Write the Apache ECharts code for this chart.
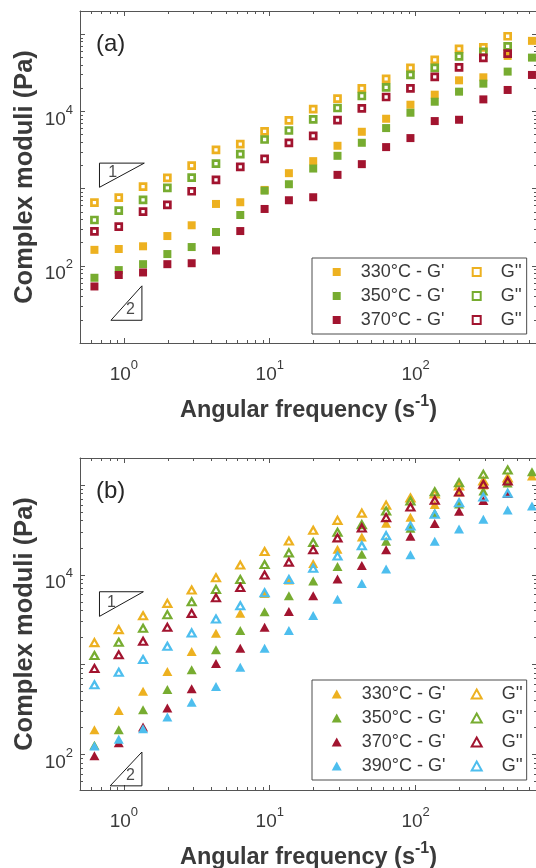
<!DOCTYPE html>
<html><head><meta charset="utf-8">
<script src="https://cdn.jsdelivr.net/npm/echarts@6/dist/echarts.min.js"></script>
<style>html,body{margin:0;padding:0;background:#fff}#c{width:536px;height:868px}</style>
</head><body><div id="c"></div>
<script>
// ---------- data ----------
const freq = [0.628, 0.922, 1.353, 1.986, 2.915, 4.279, 6.28, 9.22, 13.53, 19.86, 29.15, 42.79, 62.8, 92.2, 135.3, 198.6, 291.5, 427.9, 628];

// panel (a) – squares
const a330Gp  = [161, 165, 179, 243, 335, 633, 666, 962, 1585, 2270, 3590, 5450, 8040, 12220, 16480, 25300, 27670, 52400, 82100];
const a350Gp  = [70, 88, 105, 142, 175, 274, 455, 942, 1140, 1820, 2660, 3925, 6085, 9620, 13360, 18030, 22900, 32800, 49800];
const a370Gp  = [54, 76, 82, 105, 108, 158, 282, 545, 707, 773, 1507, 2075, 3450, 4515, 7500, 7800, 14320, 18970, 29700];
const a330Gpp = [658, 764, 1062, 1377, 1990, 3184, 3773, 5500, 7640, 10740, 14620, 19900, 26360, 36600, 46500, 64600, 67500, 94200];
const a350Gpp = [392, 518, 713, 1021, 1390, 2113, 2797, 4330, 5665, 7870, 11070, 15850, 20500, 29700, 36600, 51800, 59100, 69800];
const a370Gpp = [280, 321, 503, 614, 925, 1297, 1914, 2432, 3925, 4835, 7730, 10940, 15380, 19900, 27990, 37250, 49400, 56100];

// panel (b) – triangles
const b330Gp  = [188, 308, 505, 836, 1394, 2228, 3715, 6200, 8730, 13360, 19190, 26430, 37530, 43750, 60700, 83600, 100000, 116600, 125900];
const b350Gp  = [126, 188, 314, 527, 873, 1457, 2388, 3880, 5845, 8510, 12370, 16900, 23660, 33040, 48860, 61500, 85800, 105200, 140600];
const b370Gp  = [96, 134, 202, 327, 537, 1026, 1518, 2596, 3910, 5845, 8980, 12690, 18970, 26920, 37150, 51050, 67300, 80500];
const b390Gp  = [124, 147, 193, 260, 381, 570, 933, 1518, 2388, 3520, 5345, 7990, 11570, 16760, 23660, 32430, 41600, 52740, 58430];
const b330Gpp = [1755, 2449, 3500, 4800, 6760, 9260, 12820, 18150, 23750, 31390, 40350, 48600, 59700, 71700, 79400, 97500, 110700, 119600];
const b350Gpp = [1259, 1770, 2531, 3594, 5012, 6870, 8870, 13010, 17550, 22860, 29800, 36220, 51400, 66400, 84300, 106100, 131500, 146800];
const b370Gpp = [903, 1282, 1815, 2596, 3715, 5550, 7225, 9930, 13840, 18970, 25780, 33270, 43350, 57000, 67600, 83600, 101800, 110700];
const b390Gpp = [595, 821, 1137, 1597, 2250, 3220, 4525, 6310, 8870, 11810, 16180, 21100, 27270, 35000, 47230, 63530, 73600, 80900];

// slope annotation triangles (data coordinates) and their labels
const aSlope1 = [[0.68, 2140], [1.38, 2140], [0.68, 1040], [0.68, 2140]];
const aSlope2 = [[0.815, 19.7], [1.329, 19.7], [1.329, 55], [0.815, 19.7]];
const bSlope1 = [[0.68, 6470], [1.36, 6470], [0.68, 3440], [0.68, 6470]];
const bSlope2 = [[0.805, 44.5], [1.329, 44.5], [1.329, 106], [0.805, 44.5]];
const aSlopeLabels = [{ value: [0.838, 1600], name: '1' }, { value: [1.11, 26.8], name: '2' }];
const bSlopeLabels = [{ value: [0.822, 4925], name: '1' }, { value: [1.11, 58.5], name: '2' }];

// axes
const xRange = [0.5, 680];
const aYRange = [10, 200000];
const bYRange = [40, 200000];
const xMajorTicks = [1, 10, 100];
const xMinorTicks = [0.5, 0.6, 0.7, 0.8, 0.9, 2, 3, 4, 5, 6, 7, 8, 9, 20, 30, 40, 50, 60, 70, 80, 90, 200, 300, 400, 500, 600];
const xTickLabels = [1, 10, 100];
const yMajorTicks = [10, 100, 1000, 10000, 100000];
const yMinorTicks = [20, 30, 40, 50, 60, 70, 80, 90, 200, 300, 400, 500, 600, 700, 800, 900,
  2000, 3000, 4000, 5000, 6000, 7000, 8000, 9000, 20000, 30000, 40000, 50000, 60000, 70000, 80000, 90000, 200000];
const yTickLabels = [100, 10000];

const temps = ['330°C', '350°C', '370°C', '390°C'];
const colors = ['#EDB120', '#77AC30', '#A2142F', '#4DBEEE'];

// ---------- styling ----------
const FONT = 'Liberation Sans, Arial, Helvetica, sans-serif';
const TXT = '#3a3a3a';
const AX = '#555555';

const tickRich = {
  b: { fontSize: 19, lineHeight: 31, color: TXT, fontFamily: FONT },
  s: { fontSize: 13, lineHeight: 13, verticalAlign: 'top', color: TXT, fontFamily: FONT }
};
const supFmt = v => '{b|10}{s|' + Math.round(v) + '}';
const lg = Math.log10;

function inRange(arr, r) { return arr.filter(v => v >= r[0] && v <= r[1]); }

function xAxesFor(gi) {
  const lmin = lg(xRange[0]), lmax = lg(xRange[1]);
  const deco = (pos, ticks, len, extra) => Object.assign({
    type: 'value', gridIndex: gi, position: pos, min: lmin, max: lmax,
    axisLine: { show: false, onZero: false },
    axisTick: { show: true, inside: true, length: len, customValues: inRange(ticks, xRange).map(lg), lineStyle: { color: AX, width: 1 } },
    axisLabel: { show: false }, splitLine: { show: false }
  }, extra || {});
  return [
    {
      type: 'log', logBase: 10, gridIndex: gi, position: 'bottom', min: xRange[0], max: xRange[1],
      axisLine: { show: true, onZero: false, lineStyle: { color: AX, width: 1 } },
      axisTick: { show: false }, axisLabel: { show: false }, splitLine: { show: false },
      name: '{t|Angular frequency (s}{s|-1}{t|)}', nameLocation: 'middle', nameGap: 51,
      nameTextStyle: {
        rich: {
          t: { fontSize: 23.5, fontWeight: 'bold', lineHeight: 34, color: TXT, fontFamily: FONT },
          s: { fontSize: 16, fontWeight: 'bold', lineHeight: 16, verticalAlign: 'top', color: TXT, fontFamily: FONT }
        }
      }
    },
    deco('bottom', xMajorTicks, 5, {
      axisLabel: { show: true, customValues: inRange(xTickLabels, xRange).map(lg), formatter: supFmt, rich: tickRich, margin: 16 }
    }),
    deco('bottom', xMinorTicks, 3),
    deco('top', xMajorTicks, 5, { axisLine: { show: true, onZero: false, lineStyle: { color: AX, width: 1 } } }),
    deco('top', xMinorTicks, 3)
  ];
}

function yAxesFor(gi, yr) {
  const lmin = lg(yr[0]), lmax = lg(yr[1]);
  const deco = (pos, ticks, len, extra) => Object.assign({
    type: 'value', gridIndex: gi, position: pos, min: lmin, max: lmax,
    axisLine: { show: false, onZero: false },
    axisTick: { show: true, inside: true, length: len, customValues: inRange(ticks, yr).map(lg), lineStyle: { color: AX, width: 1 } },
    axisLabel: { show: false }, splitLine: { show: false }
  }, extra || {});
  return [
    {
      type: 'log', logBase: 10, gridIndex: gi, position: 'left', min: yr[0], max: yr[1],
      axisLine: { show: true, onZero: false, lineStyle: { color: AX, width: 1 } },
      axisTick: { show: false }, axisLabel: { show: false }, splitLine: { show: false },
      name: 'Complex moduli (Pa)', nameLocation: 'middle', nameRotate: 90, nameGap: 41,
      nameTextStyle: { fontSize: 25.5, fontWeight: 'bold', lineHeight: 28, color: TXT, fontFamily: FONT }
    },
    deco('left', yMajorTicks, 5, {
      axisLabel: { show: true, customValues: inRange(yTickLabels, yr).map(lg), formatter: supFmt, rich: tickRich, margin: 7, padding: [16, 0, 0, 0] }
    }),
    deco('left', yMinorTicks, 3),
    deco('right', yMajorTicks, 5, { axisLine: { show: true, onZero: false, lineStyle: { color: AX, width: 1 } } }),
    deco('right', yMinorTicks, 3)
  ];
}

const xAxis = [].concat(xAxesFor(0), xAxesFor(1));
const yAxis = [].concat(yAxesFor(0, aYRange), yAxesFor(1, bYRange));
const AX_A = 0, AX_B = 5; // index of data axes per grid

function pts(vals) { return vals.map((v, i) => [freq[i], v]); }

function markerSeries(panel, name, vals, color, symbol, open) {
  const axi = panel === 'a' ? AX_A : AX_B;
  const size = symbol === 'rect' ? (open ? 6 : 8) : (open ? [8, 7] : [10, 9]);
  return {
    type: 'scatter', name: panel + '|' + name, xAxisIndex: axi, yAxisIndex: axi,
    data: pts(vals), symbol: symbol, symbolSize: size, silent: true,
    itemStyle: open
      ? { color: 'rgba(255,255,255,0)', borderColor: color, borderWidth: symbol === 'rect' ? 2.7 : 2.2, opacity: 1 }
      : { color: color, borderWidth: 0, opacity: 1 },
    emphasis: { disabled: true }
  };
}

function slopeSeries(axi, poly) {
  return { type: 'line', xAxisIndex: axi, yAxisIndex: axi, data: poly, symbol: 'none', silent: true,
    lineStyle: { color: '#1a1a1a', width: 1 }, z: 1 };
}
function slopeLabelSeries(axi, labs) {
  return { type: 'scatter', xAxisIndex: axi, yAxisIndex: axi, data: labs, symbolSize: 0, silent: true,
    label: { show: true, position: 'inside', formatter: p => p.name, fontSize: 16, color: '#1a1a1a', fontFamily: FONT } };
}

const aGp = [a330Gp, a350Gp, a370Gp];
const aGpp = [a330Gpp, a350Gpp, a370Gpp];
const bGp = [b330Gp, b350Gp, b370Gp, b390Gp];
const bGpp = [b330Gpp, b350Gpp, b370Gpp, b390Gpp];

const series = [];
aGp.forEach((v, i) => series.push(markerSeries('a', temps[i] + " - G'", v, colors[i], 'rect', false)));
aGpp.forEach((v, i) => series.push(markerSeries('a', temps[i] + " - G''", v, colors[i], 'rect', true)));
bGp.forEach((v, i) => series.push(markerSeries('b', temps[i] + " - G'", v, colors[i], 'triangle', false)));
bGpp.forEach((v, i) => series.push(markerSeries('b', temps[i] + " - G''", v, colors[i], 'triangle', true)));
series.push(slopeSeries(AX_A, aSlope1), slopeSeries(AX_A, aSlope2), slopeSeries(AX_B, bSlope1), slopeSeries(AX_B, bSlope2));
series.push(slopeLabelSeries(AX_A, aSlopeLabels), slopeLabelSeries(AX_B, bSlopeLabels));

const legendText = { fontSize: 18, lineHeight: 18, color: TXT, fontFamily: FONT, padding: [0, 0, 0, 15] };
function legendPair(panel, n, top) {
  const t = temps.slice(0, n);
  const w = panel === 'a' ? 8 : 10, h = panel === 'a' ? 8 : 9;
  const common = { orient: 'vertical', top: top, itemWidth: w, itemHeight: h, itemGap: 6,
    selectedMode: false, textStyle: legendText,
    formatter: nm => nm.split('|')[1].indexOf("G''") >= 0 ? "G''" : nm.split('|')[1] };
  const c1 = 336.7 - w / 2, c2 = 475.7 - w / 2;
  return [
    Object.assign({}, common, { left: 312, padding: [5, 526.7 - (c1 + w + 5 + 15 + 83.7), 5, c1 - 312],
      borderColor: '#4d4d4d', borderWidth: 1, backgroundColor: '#fff',
      data: t.map(x => panel + '|' + x + " - G'") }),
    Object.assign({}, common, { left: c2, padding: [5, 0, 5, 0], z: 5,
      data: t.map(x => panel + '|' + x + " - G''") })
  ];
}

const option = {
  animation: false,
  backgroundColor: '#ffffff',
  textStyle: { fontFamily: FONT },
  grid: [
    { left: 80, top: 11, width: 457, height: 332, outerBoundsMode: 'none', containLabel: false },
    { left: 80, top: 458, width: 457, height: 332, outerBoundsMode: 'none', containLabel: false }
  ],
  title: [
    { text: '(a)', left: 96, top: 32, padding: 0, textStyle: { fontSize: 24, fontWeight: 'normal', color: '#262626', fontFamily: FONT } },
    { text: '(b)', left: 96, top: 479, padding: 0, textStyle: { fontSize: 24, fontWeight: 'normal', color: '#262626', fontFamily: FONT } }
  ],
  legend: [].concat(legendPair('a', 3, 258), legendPair('b', 4, 680)),
  xAxis: xAxis,
  yAxis: yAxis,
  series: series
};

const chart = echarts.init(document.getElementById('c'), null, { renderer: 'canvas' });
chart.setOption(option);
</script>
</body></html>
